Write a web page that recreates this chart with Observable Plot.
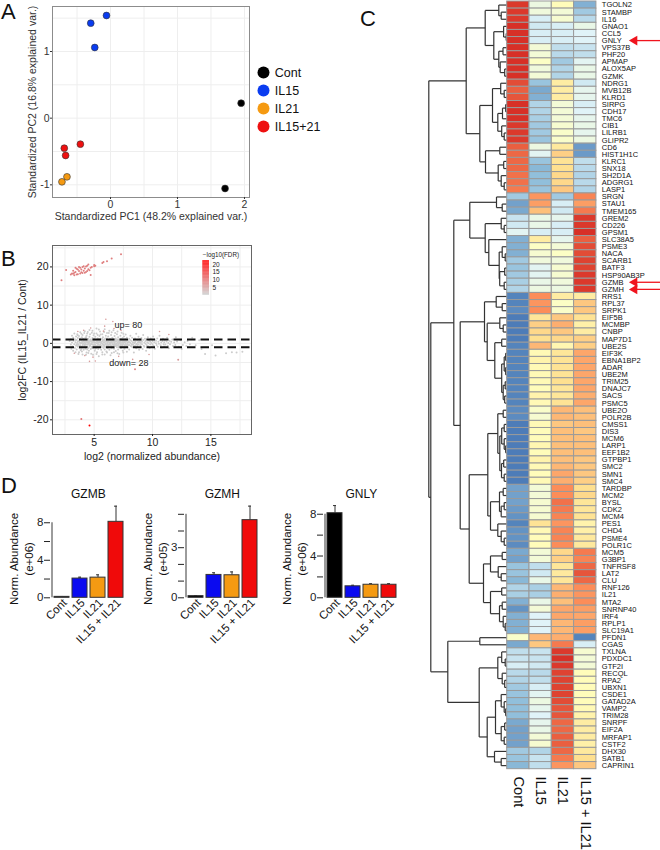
<!DOCTYPE html>
<html>
<head>
<meta charset="utf-8">
<script src="https://cdn.jsdelivr.net/npm/d3@7"></script>
<script src="https://cdn.jsdelivr.net/npm/@observablehq/plot@0.6"></script>
<style>
html,body{margin:0;padding:0;background:#fff;}
#page{position:relative;width:660px;height:850px;overflow:hidden;font-family:"Liberation Sans",Arial,sans-serif;}
.letter{position:absolute;font-size:22px;line-height:22px;color:#111;}
svg{background:transparent !important;}
</style>
</head>
<body>
<div id="page">
<div class="letter" style="left:1px;top:1px">A</div>
<div class="letter" style="left:1px;top:248px">B</div>
<div class="letter" style="left:360px;top:8px">C</div>
<div class="letter" style="left:1px;top:475px">D</div>
</div>
<script>
const FONT = '"Liberation Sans",Arial,sans-serif';

// ---------- Panel A: PCA ----------
const groupNames = ["Cont", "IL15", "IL21", "IL15+21"];
const groupColors = ["#000000", "#0a3cf0", "#f59a12", "#ee1010"];
const pcaGroup = ["Cont","Cont","IL15","IL15","IL15","IL21","IL21","IL15+21","IL15+21","IL15+21"];
const pcaX = [1.95, 1.71, -0.06, -0.295, -0.235, -0.65, -0.725, -0.45, -0.69, -0.67];
const pcaY = [0.225, -1.055, 1.54, 1.425, 1.06, -0.88, -0.955, -0.39, -0.45, -0.56];

// ---------- Panel B: MA plot ----------
const upPoints = [[2.2,16.5],[2.6,19.2],[3,18],[3.2,18.2],[3.3,18.5],[3.4,19.8],[3.5,18],[3.6,19.3],[3.7,18.9],[3.7,20],[3.8,18.3],[3.9,18.6],[3.9,19.3],[4,18.4],[4,20],[4.1,19],[4.2,19.6],[4.3,18.7],[4.3,20.1],[4.4,18.9],[4.5,19.4],[4.5,20.6],[4.6,19.1],[4.7,17.9],[4.7,19.8],[4.8,20],[5,20.2],[5,20.5],[5.1,20.3],[5.7,21],[5.8,21.3],[6.1,21.5],[6.5,22.2],[7.3,23.3],[3.2,19],[3.5,19.5],[3.3,17.8],[4.1,20.2],[3.8,19.8],[4.4,20.3],[3.1,18.3],[3.4,18.7],[3.6,18.1],[4.2,18.5]];
const downPoints = [[3.9,-19.8,9],[4.6,-21.5,21],[8.5,-6.8,7],[12.2,-4.3,5]];
const paleRedPoints = [[6,6.3],[6.6,5.7],[5.9,4.5],[3.6,3.1],[4.1,3.4],[4.9,-3.6],[4.2,-3.2],[3.3,-2.6],[5.8,3.2],[7.3,3.4],[11.4,2.3],[8.3,-4.2],[10.6,3.1],[5.1,-4.6],[4.6,-4.7],[7.1,-3.4],[9.7,-2.9],[6.7,3.9],[4.7,4]];
const grayPoints = [
[2.9,0.6],[3,-0.3],[3,1.1],[3.05,-1.4],[3.1,0.2],[3.1,2],[3.15,-0.8],[3.2,1.5],[3.2,-1.9],[3.25,0.7],[3.3,-0.2],[3.3,2.6],[3.35,1.1],[3.35,-1.2],[3.4,0.3],[3.4,-2.3],[3.45,1.8],[3.45,-0.6],[3.5,0.9],[3.5,-1.6],[3.55,0.1],[3.55,2.4],[3.6,-0.9],[3.6,1.4],[3.65,-0.2],[3.65,-2.8],[3.7,0.6],[3.7,1.9],[3.75,-1.3],[3.75,0.3],[3.8,-0.5],[3.8,2.9],[3.85,1],[3.85,-1.8],[3.9,0.1],[3.9,-0.9],[3.95,1.6],[3.95,-2.1],[4,0.5],[4,-0.4],[4,2.2],[4.05,-1.1],[4.05,1.2],[4.1,-0.1],[4.1,-1.7],[4.15,0.8],[4.15,2.7],[4.2,-0.7],[4.2,0.3],[4.25,1.5],[4.25,-1.4],[4.3,-0.3],[4.3,0.9],[4.35,-2.4],[4.35,2],[4.4,0.2],[4.4,-0.8],[4.45,1.1],[4.45,3],[4.5,-1.2],[4.5,0.6],[4.55,-0.1],[4.55,-1.9],[4.6,1.7],[4.6,0.4],[4.65,-0.6],[4.65,2.4],[4.7,-1.5],[4.7,1],[4.75,0],[4.75,-2.7],[4.8,0.7],[4.8,-0.9],[4.85,1.4],[4.85,3.3],[4.9,-0.3],[4.9,-1.3],[4.95,0.5],[4.95,2.1],[5,-0.7],[5,1.2],[5.05,-1.9],[5.05,0.2],[5.1,-0.4],[5.1,1.7],[5.15,-1.1],[5.15,0.9],[5.2,2.6],[5.2,0],[5.25,-0.8],[5.25,-2.3],[5.3,0.6],[5.3,1.3],[5.35,-0.2],[5.35,-1.5],[5.4,3.6],[5.4,0.3],[5.45,-0.6],[5.45,1.9],[5.5,-1],[5.5,0.8],[5.55,-0.3],[5.55,2.3],[5.6,-1.7],[5.6,0.1],[5.65,1.1],[5.65,-0.7],[5.7,-2.9],[5.7,0.5],[5.75,1.6],[5.75,-0.2],[5.8,-1.2],[5.8,0.9],[5.85,-0.5],[5.85,3],[5.9,0.2],[5.9,-1.6],[5.95,1.3],[5.95,-0.9],[6,-0.1],[6,2],[6.05,0.7],[6.05,-2.1],[6.1,-0.6],[6.1,1],[6.15,0.3],[6.15,-1.3],[6.2,1.8],[6.2,-0.3],[6.25,2.7],[6.25,0.5],[6.3,-0.8],[6.3,-1.7],[6.35,1.2],[6.35,0],[6.4,-0.5],[6.4,0.8],[6.45,2.2],[6.45,-1.1],[6.5,0.2],[6.5,-2.5],[6.55,1.5],[6.55,-0.2],[6.6,0.6],[6.6,-0.9],[6.65,3.4],[6.65,-0.4],[6.7,1],[6.7,-1.4],[6.75,0.1],[6.75,1.9],[6.8,-0.7],[6.8,0.4],[6.85,-2],[6.85,1.3],[6.9,-0.1],[6.9,0.8],[6.95,2.4],[6.95,-1],[7,0.3],[7,-0.5],[7.05,1.6],[7.05,-1.6],[7.1,0.6],[7.1,-0.2],[7.15,-2.8],[7.15,1.1],[7.2,-0.8],[7.2,0],[7.25,2],[7.25,0.5],[7.3,-1.2],[7.3,-0.3],[7.35,0.9],[7.35,2.8],[7.4,0.2],[7.4,-0.6],[7.45,1.4],[7.45,-1.9],[7.5,-0.1],[7.5,0.7],[7.55,-0.9],[7.55,1.8],[7.6,0.3],[7.6,-1.4],[7.65,1.1],[7.65,-0.4],[7.7,2.3],[7.7,0],[7.75,-0.7],[7.75,0.6],[7.8,-2.2],[7.8,1.5],[7.85,0.2],[7.85,-0.2],[7.9,0.9],[7.9,-1.1],[7.95,-0.5],[7.95,0.4],[8,1.2],[8,-1.6],[8.1,0.1],[8.1,2],[8.15,-0.7],[8.2,0.6],[8.2,-0.2],[8.25,1.5],[8.3,-1],[8.3,0.3],[8.35,-0.4],[8.4,0.9],[8.4,-2.4],[8.45,0],[8.5,1.3],[8.5,-0.6],[8.55,0.5],[8.6,-1.3],[8.6,2.5],[8.65,-0.1],[8.7,0.8],[8.7,-0.8],[8.75,0.2],[8.8,1.7],[8.8,-0.3],[8.85,-1.7],[8.9,0.6],[8.9,1.1],[8.95,-0.5],[9,0.1],[9,-1],[9.05,1.4],[9.1,0.4],[9.1,-0.2],[9.15,-1.5],[9.2,0.9],[9.2,2.2],[9.25,-0.6],[9.3,0.2],[9.3,-0.9],[9.35,1.2],[9.4,-0.1],[9.4,0.6],[9.45,-1.9],[9.5,1],[9.5,-0.4],[9.55,0.3],[9.6,1.6],[9.6,-0.7],[9.65,0],[9.7,0.7],[9.75,-1.2],[9.8,0.4],[9.8,-0.3],[9.85,1.3],[9.9,0.1],[9.95,-0.8],[10,0.6],[10,-0.2],[10.05,1.8],[10.1,-0.6],[10.15,0.3],[10.2,1],[10.2,-1.4],[10.3,0],[10.3,0.7],[10.35,-0.4],[10.4,1.3],[10.45,-0.9],[10.5,0.4],[10.55,-0.1],[10.6,2],[10.65,0.8],[10.7,-0.5],[10.75,0.2],[10.8,-1.1],[10.85,0.6],[10.9,1.2],[10.95,-0.2],[11,0.3],[11,-0.8],[11.05,0.9],[11.1,-0.3],[11.2,0.5],[11.25,1.5],[11.3,-0.6],[11.35,0.1],[11.4,-1.3],[11.45,0.7],[11.5,-0.2],[11.6,0.4],[11.7,1],[11.75,-0.7],[11.85,0.2],[11.95,-0.4],[12,1.6],[12.1,0.5],[12.25,-0.9],[12.4,0.8],[12.5,-1.5],[12.6,-0.4],[12.75,0.3],[12.9,-0.7],[13,0.6],[13.2,-0.2],[13.4,1.5],[13.7,-0.5],[14,0.8],[14.2,-1.5],[14.5,-2.8],[15.1,-0.5],[15.4,-3.2],[16.3,-2.6],[16.8,-2.3],[17.2,-2.4],[17.7,-2.2],
[3.4,0.8],[3.6,-0.4],[3.8,1.3],[3.9,-1.5],[4.1,0.7],[4.2,-0.3],[4.3,1.6],[4.4,-1.6],[4.5,0.1],[4.6,-0.5],[4.7,0.6],[4.8,-0.2],[4.9,1],[5,0.3],[5.1,-1.4],[5.2,0.7],[5.3,-0.5],[5.4,1.1],[5.5,0.2],[5.6,-0.9],[5.7,1.3],[5.8,-0.4],[5.9,0.7],[6,-1.1],[6.1,0.4],[6.2,-0.6],[6.3,0.9],[6.4,0.1],[6.5,-1.3],[6.6,1.2],[6.7,-0.3],[6.8,0.7],[6.9,-0.7],[7,1],[7.1,-1],[7.2,0.4],[7.3,1.2],[7.4,-0.9],[7.6,0.6],[7.8,-0.4],[8,0.3],[8.2,-0.8],[8.4,0.2],[8.6,-0.3],[8.8,0.5],[9,0.7],
[3.6,2.1],[3.9,2.5],[4.2,3.2],[4.4,2.6],[4.6,3.5],[4.8,2.8],[5,2.6],[5.2,3.9],[5.3,2.2],[5.5,3.1],[5.7,2.4],[5.9,3.7],[6.1,2.7],[6.3,3.3],[6.5,2.9],[6.8,2.7],[7,3.1],[7.5,2.5],
[3.7,-2.3],[4,-2.9],[4.3,-3],[4.5,-2.5],[4.9,-3],[5.2,-2.8],[5.4,-3.4],[5.7,-2.3],[5.9,-2.9],[6.1,-2.4],[6.4,-3.1],[6.7,-2.3],[7,-2.6],[7.5,-2.4],
[3.5,-0.3],[3.6,0.5],[3.7,-0.7],[3.8,0.1],[3.9,0.7],[4,-1],[4,0.1],[4.1,0.4],[4.15,-0.5],[4.2,1],[4.25,-0.1],[4.3,0.4],[4.35,-0.9],[4.4,0.6],[4.45,-0.3],[4.5,1.2],[4.55,0.3],[4.6,-0.9],[4.65,0.8],[4.7,-0.2],[4.75,0.5],[4.8,-1.2],[4.85,0.2],[4.9,0.6],[4.95,-0.6],[5,0.8],[5,-0.2],[5.05,1],[5.1,0.2],[5.15,-0.6],[5.2,-1.2],[5.25,0.4],[5.3,0.1],[5.35,0.9],[5.4,-0.8],[5.45,0.5],[5.5,-0.4],[5.55,1.2],[5.6,0.4],[5.65,-1],[5.7,-0.1],[5.75,0.7],[5.8,0.3],[5.85,-0.8],[5.9,1],[5.95,-0.2],[6,0.5],[6.05,-0.5],[6.1,1.3],[6.15,-0.1],[6.2,0.6],[6.25,-0.9],[6.3,0.2],[6.35,-0.3],[6.4,1],[6.45,0.4],[6.5,-0.7],[6.55,0.9],[6.6,0.1],[6.65,-1.1],[6.7,0.4],[6.75,-0.5],[6.8,1.1],[6.85,-0.2],[6.9,0.5],[6.95,-0.5],[7,0.8],[7.05,0],[7.1,-0.7],[7.15,0.3],[7.2,0.8],[7.25,-0.5],[7.3,0.1],[7.35,-0.9],[7.4,0.6],[7.45,-0.2],[7.5,0.3],[7.55,0.9],[7.6,-0.5],[7.7,0.5],[7.8,-0.8],[7.9,0.2],[8,-0.4],[8.1,0.8],[8.3,-0.2],[8.5,0.3],[8.7,-0.4],[8.9,0.2]
];
const upLabel = "up= 80";
const downLabel = "down= 28";

// ---------- Panel C: heat map ----------
const heatColumns = ["Cont", "IL15", "IL21", "IL15 + IL21"];
const genes = ["TGOLN2","STAMBP","IL16","GNAO1","CCL5","GNLY","VPS37B","PHF20","APMAP","ALOX5AP","GZMK","NDRG1","MVB12B","KLRD1","SIRPG","CDH17","TMC6","CIB1","LILRB1","GLIPR2","CD6","HIST1H1C","KLRC1","SNX18","SH2D1A","ADGRG1","LASP1","SRGN","STAU1","TMEM165","GREM2","CD226","GPSM1","SLC38A5","PSME3","NACA","SCARB1","BATF3","HSP90AB3P","GZMB","GZMH","RRS1","RPL37","SRPK1","EIF5B","MCMBP","CNBP","MAP7D1","UBE2S","EIF3K","EBNA1BP2","ADAR","UBE2M","TRIM25","DNAJC7","SACS","PSMC5","UBE2O","POLR2B","CMSS1","DIS3","MCM6","LARP1","EEF1B2","GTPBP1","SMC2","SMN1","SMC4","TARDBP","MCM2","BYSL","CDK2","MCM4","PES1","CHD4","PSME4","POLR1C","MCM5","G3BP1","TNFRSF8","LAT2","CLU","RNF126","IL21","MTA2","SNRNP40","IRF4","RPLP1","SLC19A1","PFDN1","CGAS","TXLNA","PDXDC1","GTF2I","RECQL","RPA2","UBXN1","CSDE1","GATAD2A","VAMP2","TRIM28","SNRPF","EIF2A","MRFAP1","CSTF2","DHX30","SATB1","CAPRIN1"];
const zCont = [1.45,1.45,1.45,1.5,1.5,1.5,1.5,1.5,1.5,1.5,1.5,1.35,1.25,1.3,1.5,1.5,1.5,1.45,1.45,1.45,1.25,1.2,1.2,1.2,1.15,1.15,1.1,-0.9,-1.2,-1.15,-0.65,-0.6,-0.45,-1.1,-1.1,-1.1,-0.9,-0.95,-0.9,-0.85,-0.8,-1.4,-1.4,-1.35,-1.45,-1.45,-1.45,-1.45,-1.4,-1.4,-1.4,-1.4,-1.4,-1.4,-1.4,-1.4,-1.4,-1.35,-1.35,-1.45,-1.45,-1.45,-1.45,-1.45,-1.45,-1.45,-1.45,-1.45,-1.2,-1.2,-1.2,-1.25,-1.3,-1.4,-1.3,-1.3,-1.35,-1.15,-1.2,-0.95,-0.95,-1.05,-0.8,-0.85,-1.1,-1.3,-1.1,-1.1,-1.1,-0.1,-1.15,-0.7,-0.65,-0.55,-0.75,-0.8,-0.9,-0.95,-1,-1,-1,-1.15,-1.2,-1.2,-1.2,-0.9,-0.95,-1.05];
const zIL15 = [-0.3,-0.25,-0.55,-0.6,-0.55,-0.55,-0.2,-0.2,-0.05,-0.25,-0.2,-0.95,-1.15,-1.1,-0.8,-0.8,-0.85,-0.9,-0.9,-0.95,-0.3,-0.45,-0.95,-1.05,-1,-1,-0.95,0.95,0.9,0.7,-0.35,-0.35,-0.55,0.3,-0.05,-0.15,-0.25,-0.45,-0.45,-0.35,-0.3,1,0.95,1,0.4,0.6,0.55,0.5,0.75,0.1,0.2,0.1,0.1,0.1,0.05,0.2,0.1,-0.1,-0.15,0.1,0.05,0.05,0.15,0.05,0.2,0.1,0.05,0.1,-0.2,-0.2,-0.15,-0.15,-0.15,0.45,0.1,0.05,0.05,-0.2,-0.2,-0.7,-0.6,-0.35,-0.85,-0.85,-0.35,-0.2,-0.5,-0.5,-0.5,0.75,0.65,-0.65,-0.65,-0.6,-0.75,-0.7,-0.55,-0.45,-0.3,-0.4,-0.5,-0.4,-0.35,-0.2,-0.15,-0.8,-0.65,-0.7];
const zIL21 = [0.05,-0.2,-0.15,-0.55,-0.55,-0.55,-0.7,-0.75,-0.9,-0.8,-0.8,0.3,0.3,0.3,-0.2,-0.2,-0.2,-0.15,-0.1,-0.1,0.35,0.6,0.45,0.5,0.55,0.55,0.65,-0.9,-0.55,-0.6,-0.4,-0.55,-0.55,-0.4,-0.2,-0.05,-0.25,-0.15,-0.15,-0.25,-0.3,0.3,-0.05,-0.1,0.65,0.8,0.65,0.55,0.15,0.4,0.45,0.45,0.45,0.5,0.4,0.4,0.45,0.75,0.75,0.65,0.7,0.7,0.7,0.7,0.7,0.75,0.85,0.8,1,1,1.15,1.1,1.05,0.95,1.05,1.05,1,0.55,0.6,0.4,0.35,0.4,0.75,0.8,0.7,0.85,0.85,0.75,0.75,0.8,1.1,1.45,1.5,1.45,1.4,1.4,1.4,1.4,1.35,1.3,1.3,1.2,1.2,1.25,1.25,1.2,1.1,0.95];
const zBoth = [-1.1,-0.9,-0.75,-0.35,-0.5,-0.5,-0.65,-0.7,-0.45,-0.35,-0.35,-0.6,-0.4,-0.4,-0.55,-0.5,-0.4,-0.35,-0.4,-0.3,-1.25,-1.25,-0.7,-0.75,-0.8,-0.75,-0.8,1.05,0.9,1.1,1.45,1.45,1.5,1.25,1.35,1.35,1.4,1.4,1.45,1.45,1.45,0.3,0.65,0.65,0.45,0.25,0.3,0.6,0.6,0.85,0.85,0.85,0.85,0.85,0.85,0.8,0.85,0.7,0.7,0.7,0.65,0.7,0.7,0.7,0.65,0.65,0.65,0.6,0.5,0.55,0.4,0.4,0.45,0.2,0.25,0.35,0.35,1.1,1.05,1.2,1.3,1.2,1,0.95,1,0.9,0.85,0.9,0.9,-1.4,-0.55,-0.15,-0.2,-0.2,0.05,0.05,0.05,0.05,0.05,0.1,0.2,0.3,0.3,0.3,0.25,0.35,0.5,0.65];
// Dendrogram: [height, left, right]; 1 is a leaf, taken in row order.
const dendrogram = [78.4,
  [41,
    [22,
      [8.4,1,[6,1,1]],
      [13.4,
        [3.6,1,[1,1,1]],
        [8.4,[4.2,1,1],[7,1,[2.5,1,1]]]]],
    [27.4,
      [14.7,
        [6.5,1,[3,1,1]],
        [9.4,[4.7,[1.5,1,1],1],[5.5,1,[3,1,1]]]],
      [21.7,
        [7.4,1,1],
        [9,[3.5,1,1],[6,1,[3,1,1]]]]]],
  [76.4,
    [53.4,
      [37.4,
        [10.7,1,[5,1,1]],
        [22,
          [6,1,[3,1,1]],
          [18.4,1,[8,[5,1,[2,1,1]],[7.5,[2.5,1,1],[3,1,1]]]]]],
      [47,
        [22.7,
          [11,1,[5,1,1]],
          [20,
            [7.4,1,[4,1,1]],
            [12.4,[5.5,1,1],[5.5,[3,[1.5,1,1],[1.5,1,1]],[4,[2,1,1],[2.5,1,1]]]]]],
        [38,
          [19.4,
            [9.4,[4,1,1],[7.4,[5.5,[3,1,1],[3,1,[1.5,1,1]]],[5.7,[3.5,1,1],[3,1,1]]]],
            [16.7,
              [7.7,[4,1,1],[6,[3,1,1],1]],
              [9.4,1,[6,1,[3,1,1]]]]],
          [23.7,
            [16.7,[5,1,1],[9,1,[6,1,1]]],
            [16.7,[5.5,1,1],[7.7,[5,1,1],[4,1,[2,1,1]]]]]]]],
    [59.4,
      [27.4,1,1],
      [28,
        [9.4,[5.5,1,[2,1,1]],[5,1,[2.5,1,1]]],
        [20,
          [11.7,[6,1,[3,1,[1.5,1,1]]],[6,[2.5,1,1],[3,1,1]]],
          [12.7,1,[6,1,1]]]]]]];
const arrowGenes = ["GNLY", "GZMB", "GZMH"];

// ---------- Panel D: bars ----------
const barGroups = ["Cont", "IL15", "IL21", "IL15 + IL21"];
const barColors = ["#000000", "#0a0af0", "#f59a12", "#f00a0a"];
const gzmbMean = [0.1, 2.05, 2.15, 8.1];
const gzmbTop = [0.14, 2.2, 2.45, 9.77];
const gzmhMean = [0.1, 1.37, 1.35, 4.65];
const gzmhTop = [0.13, 1.5, 1.55, 5.49];
const gnlyMean = [8.1, 1.1, 1.25, 1.25];
const gnlyTop = [8.83, 1.2, 1.35, 1.35];

// ---------- helpers ----------
const page = document.getElementById("page");
const plain = d => String(d).replace("\u2212", "-");
function place(svg, left, top) {
  svg.style.position = "absolute";
  svg.style.left = left + "px";
  svg.style.top = top + "px";
  svg.style.maxWidth = "none";
  svg.style.overflow = "visible";
  page.appendChild(svg);
}

// Panel A
const pca = pcaX.map((x, i) => ({x, y: pcaY[i], g: pcaGroup[i]}));
const groupColor = g => groupColors[groupNames.indexOf(g)];
place(Plot.plot({
  width: 260, height: 225, marginLeft: 52, marginRight: 11, marginTop: 6, marginBottom: 28,
  style: {fontFamily: FONT},
  x: {domain: [-0.866, 2.075]},
  y: {domain: [-1.19, 1.675]},
  marks: [
    Plot.gridX({ticks: [-0.5, 0, 0.5, 1, 1.5, 2], stroke: "#eeeeee", strokeOpacity: 1}),
    Plot.gridY({ticks: [-1, -0.5, 0, 0.5, 1, 1.5], stroke: "#eeeeee", strokeOpacity: 1}),
    Plot.frame({stroke: "#8c8c8c", strokeWidth: 1}),
    Plot.axisX({ticks: [0, 1, 2], tickFormat: plain, tickSize: 2, tickPadding: 1, fontSize: 10.5, color: "#333", label: "Standardized PC1 (48.2% explained var.)", labelAnchor: "center", labelArrow: "none", labelOffset: 22}),
    Plot.axisY({ticks: [-1, 0, 1], tickFormat: plain, tickSize: 2, tickPadding: 1, fontSize: 10.5, color: "#333", label: "Standardized PC2 (16.8% explained var.)", labelAnchor: "center", labelArrow: "none", labelOffset: 24}),
    Plot.dot(pca, {x: "x", y: "y", r: 3.4, fill: d => groupColor(d.g), stroke: "#333", strokeWidth: 0.6})
  ]
}), 0, 0);

// Panel A legend
place(Plot.plot({
  width: 75, height: 80, margin: 0,
  style: {fontFamily: FONT},
  x: {domain: [0, 1], range: [8, 70], axis: null},
  y: {type: "point", domain: groupNames, range: [11.7, 66], padding: 0, axis: null},
  marks: [
    Plot.dot(groupNames, {x: () => 0, y: d => d, r: 6, fill: groupColor}),
    Plot.text(groupNames, {x: () => 0, y: d => d, text: d => d, textAnchor: "start", dx: 11.3, fontSize: 12.5, fill: "#111"})
  ]
}), 255, 60);

// Panel B
const colorB = {type: "linear", domain: [0, 21], range: ["#cccccc", "#ff0000"], clamp: true};
place(Plot.plot({
  width: 265, height: 225, marginLeft: 52, marginRight: 14, marginTop: 5, marginBottom: 31,
  style: {fontFamily: FONT},
  x: {domain: [1.43, 18.48]},
  y: {domain: [-23.84, 25.6]},
  color: colorB,
  marks: [
    Plot.gridX({ticks: [2.5, 5, 7.5, 10, 12.5, 15, 17.5], stroke: "#eeeeee", strokeOpacity: 1}),
    Plot.gridY({ticks: [-20, -15, -10, -5, 0, 5, 10, 15, 20, 25], stroke: "#eeeeee", strokeOpacity: 1}),
    Plot.dot(grayPoints, {x: "0", y: "1", r: 1, fill: () => 0, stroke: null}),
    Plot.dot(paleRedPoints, {x: "0", y: "1", r: 0.8, fill: () => 5, stroke: null}),
    Plot.dot(upPoints, {x: "0", y: "1", r: 1, fill: () => 8, stroke: null}),
    Plot.dot(downPoints, {x: "0", y: "1", r: 1, fill: "2", stroke: null}),
    Plot.ruleY([1, -1], {stroke: "#111", strokeWidth: 2, strokeDasharray: "8.5,5"}),
    Plot.text([upLabel], {x: () => 7.94, y: () => 4.9, text: d => d, fontSize: 9, fill: "#222"}),
    Plot.text([downLabel], {x: () => 7.98, y: () => -5.2, text: d => d, fontSize: 9, fill: "#222"}),
    Plot.frame({stroke: "#666", strokeWidth: 1}),
    Plot.axisX({ticks: [5, 10, 15], tickFormat: plain, tickSize: 2, tickPadding: 2, fontSize: 10.5, color: "#222", label: "log2 (normalized abundance)", labelAnchor: "center", labelArrow: "none", labelOffset: 25}),
    Plot.axisY({ticks: [-20, -10, 0, 10, 20], tickSize: 2, tickPadding: 2, fontSize: 10.5, color: "#222", tickFormat: plain, label: "log2FC (IL15_IL21 / Cont)", labelAnchor: "center", labelArrow: "none", labelOffset: 34})
  ]
}), 0, 240);

// Panel B legend
const rampValues = d3.range(0, 22.5, 0.5);
const legendTicks = [5, 10, 15, 20];
place(Plot.plot({
  width: 60, height: 50, marginLeft: 7.3, marginRight: 46, marginTop: 10, marginBottom: 5,
  style: {fontFamily: FONT},
  x: {domain: [0, 1], axis: null},
  y: {domain: [-0.2, 22.6], axis: null},
  color: colorB,
  marks: [
    Plot.rect(rampValues, {x1: () => 0, x2: () => 1, y1: d => d, y2: d => d + 0.5, fill: d => d}),
    Plot.text(legendTicks, {x: () => 1, y: d => d, text: d => String(d), textAnchor: "start", dx: 3, fontSize: 6.5, fill: "#222"}),
    Plot.text(["\u2212log10(FDR)"], {x: () => 0, frameAnchor: "top", text: d => d, textAnchor: "start", dy: -8, fontSize: 6.3, fill: "#222"})
  ]
}), 195, 250);

// Panel D
function barPanel(title, subtitle, means, tops, yTop, ticks, labelled, axisMax, left) {
  const rows = barGroups.map((g, i) => ({g, v: means[i], t: tops[i], c: barColors[i]}));
  return place(Plot.plot({
    width: 130, height: 165, marginLeft: 51, marginRight: 4.3, marginTop: 28.5, marginBottom: 42.7,
    style: {fontFamily: FONT},
    x: {domain: barGroups, paddingInner: 0.145, paddingOuter: 0.07, align: 0.5},
    y: {domain: [0, yTop]},
    marks: [
      Plot.ruleX(rows, {x: "g", y1: "v", y2: "t", stroke: "#333", strokeWidth: 1}),
      Plot.tickY(rows, {x: "g", y: "t", stroke: "#333", strokeWidth: 1, insetLeft: 6, insetRight: 6}),
      Plot.barY(rows, {x: "g", y: "v", fill: d => d.c, stroke: "#333", strokeWidth: 1}),
      Plot.ruleX([barGroups[0]], {x: d => d, y1: () => 0, y2: () => axisMax, dx: -10, stroke: "#222", strokeWidth: 0.9}),
      Plot.axisY({ticks, tickSize: 6, tickPadding: 1, dx: -1, fontSize: 11.5, color: "#222", label: null, tickFormat: d => labelled.includes(d) ? String(d) : ""}),
      Plot.axisX({tickSize: 0, tickPadding: 3, tickRotate: -45, dx: 3, fontSize: 11.5, color: "#111", label: null}),
      Plot.text([title], {frameAnchor: "top", text: d => d, dy: -15, dx: -0.5, fontSize: 12, fill: "#111"}),
      Plot.text(["Norm. Abundance"], {frameAnchor: "left", textAnchor: "middle", text: d => d, rotate: -90, dx: -37, dy: 8, fontSize: 11.5, fill: "#111"}),
      Plot.text([subtitle], {frameAnchor: "left", textAnchor: "middle", text: d => d, rotate: -90, dx: -22, dy: 8, fontSize: 11.5, fill: "#111"})
    ]
  }), left, 475);
}
barPanel("GZMB", "(e+06)", gzmbMean, gzmbTop, 10, [0, 2, 4, 6, 8], [0, 4, 8], 8, 0);
barPanel("GZMH", "(e+05)", gzmhMean, gzmhTop, 5.617, [0, 1, 2, 3, 4, 5], [0, 3], 5, 134);
barPanel("GNLY", "(e+06)", gnlyMean, gnlyTop, 8.98, [0, 2, 4, 6, 8], [0, 4, 8], 8, 272.7);

// Panel C
const zRows = [zCont, zIL15, zIL21, zBoth];
const COL = 22.3, LABEL_X = 94.6, ARROW_TIP = 127.3, ARROW_END = 153.3, HEADER_Y = 109.03;
const cells = [];
genes.forEach((g, r) => zRows.forEach((col, c) => cells.push({r, c, z: col[r]})));
const segs = [];
let nextLeaf = 0;
function walk(node) {
  if (node === 1) return {h: 0, y: nextLeaf++ + 0.5};
  const [h, a, b] = node;
  const A = walk(a), B = walk(b);
  segs.push({x1: -h, y1: A.y, x2: -h, y2: B.y});
  segs.push({x1: -h, y1: A.y, x2: -A.h, y2: A.y});
  segs.push({x1: -h, y1: B.y, x2: -B.h, y2: B.y});
  return {h, y: (A.y + B.y) / 2};
}
walk(dendrogram);
if (nextLeaf !== genes.length) throw new Error("leaves " + nextLeaf + " vs genes " + genes.length);
zRows.forEach((z, i) => { if (z.length !== genes.length) throw new Error("col " + i + " len " + z.length); });
const arrowRows = arrowGenes.map(g => genes.indexOf(g) + 0.5);
place(Plot.plot({
  width: 240, height: 850, margin: 0,
  style: {fontFamily: FONT},
  x: {domain: [-86.7, 153.3], axis: null},
  y: {domain: [-0.14, 119.44], reverse: true, axis: null},
  color: {type: "linear", domain: [-1.5, -1, -0.5, 0, 0.5, 1, 1.5], range: ["#4575B4", "#91BFDB", "#E0F3F8", "#FFFFBF", "#FEE090", "#FC8D59", "#D73027"], clamp: true},
  marks: [
    Plot.link(segs, {x1: "x1", y1: "y1", x2: "x2", y2: "y2", stroke: "#333", strokeWidth: 1.2}),
    Plot.rect(cells, {x1: d => d.c * COL, x2: d => (d.c + 1) * COL, y1: "r", y2: d => d.r + 1, fill: "z", stroke: "#9a9a9a", strokeWidth: 1}),
    Plot.text(genes, {x: () => LABEL_X, y: (d, i) => i + 0.5, text: d => d, textAnchor: "start", fontSize: 7.5, fill: "#111"}),
    Plot.text(heatColumns, {x: (d, i) => (i + 0.5) * COL, y: () => HEADER_Y, text: d => d, rotate: 90, textAnchor: "start", fontSize: 14.6, fill: "#111"}),
    Plot.ruleY(arrowRows, {y: d => d, x1: () => ARROW_TIP, x2: () => ARROW_END, stroke: "#f0141e", strokeWidth: 1.3}),
    Plot.dot(arrowRows, {x: () => ARROW_TIP, y: d => d, symbol: "triangle", rotate: -90, r: 3.6, fill: "#f0141e", stroke: null})
  ]
}), 420, 0);
</script>
</body>
</html>
